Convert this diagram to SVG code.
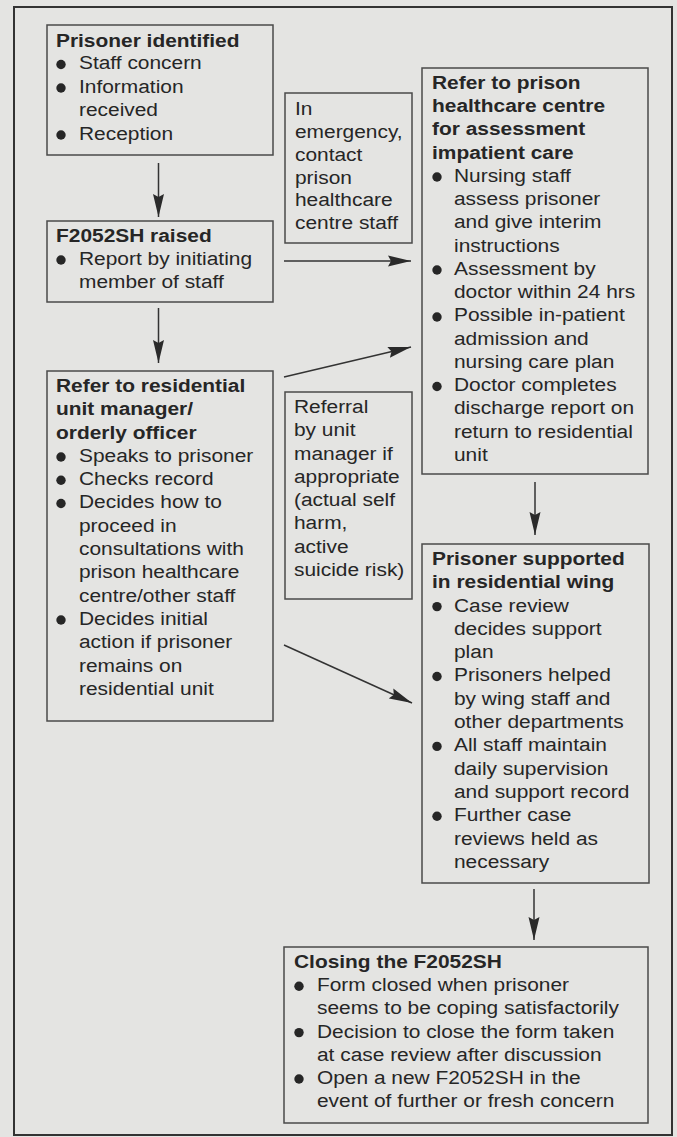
<svg xmlns="http://www.w3.org/2000/svg" width="677" height="1137" viewBox="0 0 677 1137">
<style>
.t{font-family:"Liberation Sans",Arial,Helvetica,sans-serif;font-size:19px;fill:#262626}
.b{font-weight:bold}
.box{fill:none;stroke:#4a4a4a;stroke-width:1.5}
.bul{fill:#262626}
.c{stroke:#333;stroke-width:1.5;fill:none;marker-end:url(#ah)}
</style>
<defs>
<marker id="ah" markerUnits="userSpaceOnUse" markerWidth="24" markerHeight="12" refX="23" refY="6" orient="auto">
<path d="M0,0.5 L23,6 L0,11.5 L3,6 z" fill="#2a2a2a"/>
</marker>
</defs>
<rect x="0" y="0" width="677" height="1137" fill="#e4e4e2"/>
<rect x="14" y="7" width="658" height="1128" fill="none" stroke="#333" stroke-width="2"/>

<g id="connectors">
<line class="c" x1="158.5" y1="163" x2="158.5" y2="217"/>
<line class="c" x1="158.5" y1="308" x2="158.5" y2="363"/>
<line class="c" x1="284" y1="261" x2="411" y2="261"/>
<line class="c" x1="284" y1="377" x2="411" y2="347"/>
<line class="c" x1="284" y1="645" x2="412" y2="703"/>
<line class="c" x1="535" y1="482" x2="535" y2="535"/>
<line class="c" x1="534" y1="889" x2="534" y2="940"/>
</g>

<g id="n-identified">
<rect class="box" x="47" y="25" width="226" height="130"/>
<circle class="bul" cx="61" cy="64.5" r="4.7"/>
<circle class="bul" cx="61" cy="88" r="4.7"/>
<circle class="bul" cx="61" cy="135" r="4.7"/>
<text class="t" transform="translate(56 0) scale(1.1 1)">
<tspan class="b" x="0" y="47">Prisoner identified</tspan>
<tspan x="20.9" y="69.5">Staff concern</tspan>
<tspan x="20.9" y="93">Information</tspan>
<tspan x="20.9" y="116.5">received</tspan>
<tspan x="20.9" y="140">Reception</tspan>
</text>
</g>

<g id="n-raised">
<rect class="box" x="47" y="221" width="226" height="81"/>
<circle class="bul" cx="61" cy="260" r="4.7"/>
<text class="t" transform="translate(56 0) scale(1.1 1)">
<tspan class="b" x="0" y="242">F2052SH raised</tspan>
<tspan x="20.9" y="265">Report by initiating</tspan>
<tspan x="20.9" y="288">member of staff</tspan>
</text>
</g>

<g id="n-refer-unit">
<rect class="box" x="47" y="371" width="226" height="350"/>
<circle class="bul" cx="61" cy="457" r="4.7"/>
<circle class="bul" cx="61" cy="480.2" r="4.7"/>
<circle class="bul" cx="61" cy="503.5" r="4.7"/>
<circle class="bul" cx="61" cy="620" r="4.7"/>
<text class="t" transform="translate(56 0) scale(1.1 1)">
<tspan class="b" x="0" y="392">Refer to residential</tspan>
<tspan class="b" x="0" y="415.3">unit manager/</tspan>
<tspan class="b" x="0" y="438.6">orderly officer</tspan>
<tspan x="20.9" y="461.9">Speaks to prisoner</tspan>
<tspan x="20.9" y="485.2">Checks record</tspan>
<tspan x="20.9" y="508.5">Decides how to</tspan>
<tspan x="20.9" y="531.8">proceed in</tspan>
<tspan x="20.9" y="555.1">consultations with</tspan>
<tspan x="20.9" y="578.4">prison healthcare</tspan>
<tspan x="20.9" y="601.7">centre/other staff</tspan>
<tspan x="20.9" y="625">Decides initial</tspan>
<tspan x="20.9" y="648.3">action if prisoner</tspan>
<tspan x="20.9" y="671.6">remains on</tspan>
<tspan x="20.9" y="694.9">residential unit</tspan>
</text>
</g>

<g id="n-emergency">
<rect class="box" x="285" y="93" width="127" height="150"/>
<text class="t" transform="translate(295 0) scale(1.1 1)">
<tspan x="0" y="115">In</tspan>
<tspan x="0" y="138">emergency,</tspan>
<tspan x="0" y="161">contact</tspan>
<tspan x="0" y="184">prison</tspan>
<tspan x="0" y="206">healthcare</tspan>
<tspan x="0" y="229">centre staff</tspan>
</text>
</g>

<g id="n-referral">
<rect class="box" x="285" y="392" width="127" height="207"/>
<text class="t" transform="translate(294 0) scale(1.1 1)">
<tspan x="0" y="413">Referral</tspan>
<tspan x="0" y="436.3">by unit</tspan>
<tspan x="0" y="459.6">manager if</tspan>
<tspan x="0" y="482.9">appropriate</tspan>
<tspan x="0" y="506.2">(actual self</tspan>
<tspan x="0" y="529.5">harm,</tspan>
<tspan x="0" y="552.8">active</tspan>
<tspan x="0" y="576.1">suicide risk)</tspan>
</text>
</g>

<g id="n-healthcare">
<rect class="box" x="422" y="68" width="226" height="406"/>
<circle class="bul" cx="437" cy="177" r="4.7"/>
<circle class="bul" cx="437" cy="270" r="4.7"/>
<circle class="bul" cx="437" cy="317" r="4.7"/>
<circle class="bul" cx="437" cy="386.5" r="4.7"/>
<text class="t" transform="translate(432 0) scale(1.1 1)">
<tspan class="b" x="0" y="89">Refer to prison</tspan>
<tspan class="b" x="0" y="112.3">healthcare centre</tspan>
<tspan class="b" x="0" y="135.5">for assessment</tspan>
<tspan class="b" x="0" y="158.8">impatient care</tspan>
<tspan x="20" y="182">Nursing staff</tspan>
<tspan x="20" y="205.3">assess prisoner</tspan>
<tspan x="20" y="228.5">and give interim</tspan>
<tspan x="20" y="251.8">instructions</tspan>
<tspan x="20" y="275">Assessment by</tspan>
<tspan x="20" y="298.3">doctor within 24 hrs</tspan>
<tspan x="20" y="321.5">Possible in-patient</tspan>
<tspan x="20" y="344.8">admission and</tspan>
<tspan x="20" y="368">nursing care plan</tspan>
<tspan x="20" y="391.3">Doctor completes</tspan>
<tspan x="20" y="414.5">discharge report on</tspan>
<tspan x="20" y="437.8">return to residential</tspan>
<tspan x="20" y="461">unit</tspan>
</text>
</g>

<g id="n-supported">
<rect class="box" x="422" y="544" width="227" height="339"/>
<circle class="bul" cx="437" cy="606.6" r="4.7"/>
<circle class="bul" cx="437" cy="676.5" r="4.7"/>
<circle class="bul" cx="437" cy="746.4" r="4.7"/>
<circle class="bul" cx="437" cy="816.3" r="4.7"/>
<text class="t" transform="translate(432 0) scale(1.1 1)">
<tspan class="b" x="0" y="565">Prisoner supported</tspan>
<tspan class="b" x="0" y="588.3">in residential wing</tspan>
<tspan x="20" y="611.6">Case review</tspan>
<tspan x="20" y="634.9">decides support</tspan>
<tspan x="20" y="658.2">plan</tspan>
<tspan x="20" y="681.5">Prisoners helped</tspan>
<tspan x="20" y="704.8">by wing staff and</tspan>
<tspan x="20" y="728.1">other departments</tspan>
<tspan x="20" y="751.4">All staff maintain</tspan>
<tspan x="20" y="774.7">daily supervision</tspan>
<tspan x="20" y="798">and support record</tspan>
<tspan x="20" y="821.3">Further case</tspan>
<tspan x="20" y="844.6">reviews held as</tspan>
<tspan x="20" y="867.9">necessary</tspan>
</text>
</g>

<g id="n-closing">
<rect class="box" x="284" y="947" width="364" height="176"/>
<circle class="bul" cx="299" cy="986.2" r="4.7"/>
<circle class="bul" cx="299" cy="1032.6" r="4.7"/>
<circle class="bul" cx="299" cy="1079" r="4.7"/>
<text class="t" transform="translate(294 0) scale(1.1 1)">
<tspan class="b" x="0" y="968">Closing the F2052SH</tspan>
<tspan x="20.9" y="991.2">Form closed when prisoner</tspan>
<tspan x="20.9" y="1014.4">seems to be coping satisfactorily</tspan>
<tspan x="20.9" y="1037.6">Decision to close the form taken</tspan>
<tspan x="20.9" y="1060.8">at case review after discussion</tspan>
<tspan x="20.9" y="1084">Open a new F2052SH in the</tspan>
<tspan x="20.9" y="1107.2">event of further or fresh concern</tspan>
</text>
</g>
</svg>
